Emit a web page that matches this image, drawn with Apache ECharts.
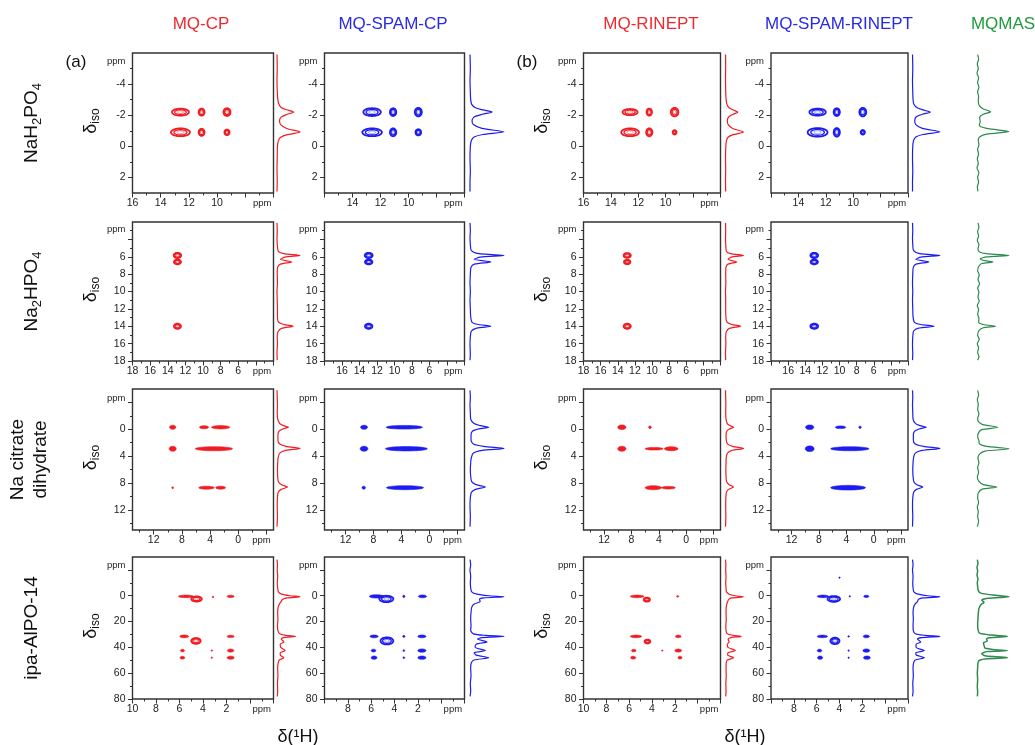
<!DOCTYPE html>
<html><head><meta charset="utf-8">
<script src="https://cdn.jsdelivr.net/npm/echarts@6/dist/echarts.min.js"></script>
<style>html,body{margin:0;padding:0;background:#fff}#c{width:1035px;height:745px}</style>
</head><body><div id="c"></div>
<script>
// ================= DATA =================
const columnTitles = ['MQ-CP', 'MQ-SPAM-CP', 'MQ-RINEPT', 'MQ-SPAM-RINEPT', 'MQMAS'];
const sampleNames = ['{n|NaH}{s|2}{n|PO}{s|4}', '{n|Na}{s|2}{n|HPO}{s|4}', '{n|Na citrate}\n{n|dihydrate}', '{n|ipa-AlPO-14}'];
const panelTags = ['(a)', '(b)'];
const yAxisTitle = '{d|δ}{s|iso}';
const xAxisTitle = 'δ(¹H)';

// axis ranges per row (ppm)
const xRanges = [[6, 16], [2, 18], [-5, 15], [-2, 10]];
const yRanges = [[-6, 3], [2, 18], [-6, 15], [-30, 80]];
// ticks and tick labels per row
const xMajorTicks = [[6, 8, 10, 12, 14, 16], [2, 4, 6, 8, 10, 12, 14, 16, 18], [-4, 0, 4, 8, 12], [-2, 0, 2, 4, 6, 8, 10]];
const xMinorTicks = [[7, 9, 11, 13, 15], [3, 5, 7, 9, 11, 13, 15, 17], [-2, 2, 6, 10, 14], [-1, 1, 3, 5, 7, 9]];
const xLabelsOuter = [[10, 12, 14, 16], [6, 8, 10, 12, 14, 16, 18], [0, 4, 8, 12], [2, 4, 6, 8, 10]];
const xLabelsInner = [[10, 12, 14], [6, 8, 10, 12, 14, 16], [0, 4, 8, 12], [2, 4, 6, 8]];
const xPpmLabelAt = [6.8, 3.3, -3.3, -1.0];
const yMajorTicks = [[-4, -2, 0, 2], [4, 6, 8, 10, 12, 14, 16, 18], [-4, 0, 4, 8, 12], [-20, 0, 20, 40, 60, 80]];
const yMinorTicks = [[-5, -3, -1, 1], [3, 5, 7, 9, 11, 13, 15, 17], [-2, 2, 6, 10, 14], [-10, 10, 30, 50, 70]];
const yLabels = [[-4, -2, 0, 2], [6, 8, 10, 12, 14, 16, 18], [0, 4, 8, 12], [0, 20, 40, 60, 80]];
const yPpmLabelAt = [-5.45, 2.9, -4.65, -23.3];

// 2D correlation peaks: [δ1H, δiso, width(1H), width(iso), kind 0=contour rings 1=filled]
const nah2po4CP = [[12.6, -2.2, 1.2, 0.45, 0], [11.1, -2.2, 0.42, 0.45, 0], [9.3, -2.2, 0.5, 0.5, 0], [12.6, -0.9, 1.35, 0.5, 0], [11.1, -0.9, 0.42, 0.45, 0], [9.3, -0.9, 0.36, 0.36, 0]];
const nah2po4SpamCP = [[12.6, -2.2, 1.25, 0.5, 0], [11.1, -2.2, 0.45, 0.5, 0], [9.3, -2.2, 0.5, 0.55, 0], [12.6, -0.9, 1.4, 0.5, 0], [11.1, -0.9, 0.45, 0.5, 0], [9.3, -0.9, 0.4, 0.4, 0]];
const nah2po4RINEPT = [[12.6, -2.2, 1.1, 0.4, 0], [11.2, -2.2, 0.4, 0.45, 0], [9.35, -2.2, 0.55, 0.55, 0], [12.6, -0.9, 1.3, 0.5, 0], [11.2, -0.9, 0.45, 0.5, 0], [9.35, -0.9, 0.28, 0.28, 0]];
const nah2po4SpamRINEPT = [[12.6, -2.2, 1.2, 0.45, 0], [11.2, -2.2, 0.45, 0.5, 0], [9.3, -2.2, 0.5, 0.55, 0], [12.6, -0.9, 1.45, 0.55, 0], [11.2, -0.9, 0.45, 0.55, 0], [9.3, -0.9, 0.3, 0.3, 0]];

const na2hpo4CP = [[12.9, 5.85, 0.85, 0.6, 0], [12.9, 6.6, 0.8, 0.55, 0], [12.9, 14.0, 0.8, 0.6, 0]];
const na2hpo4SpamCP = [[12.95, 5.85, 0.9, 0.6, 0], [12.95, 6.6, 0.85, 0.55, 0], [12.95, 14.0, 0.85, 0.6, 0]];
const na2hpo4RINEPT = [[12.9, 5.85, 0.85, 0.55, 0], [12.9, 6.6, 0.75, 0.5, 0], [12.9, 14.0, 0.85, 0.6, 0]];
const na2hpo4SpamRINEPT = [[12.95, 5.85, 0.9, 0.6, 0], [12.95, 6.6, 0.85, 0.55, 0], [12.95, 14.0, 0.9, 0.6, 0]];

const citrateCP = [[9.3, -0.3, 0.9, 0.6, 1], [4.85, -0.3, 1.3, 0.45, 1], [2.5, -0.3, 2.6, 0.5, 1], [9.3, 2.9, 1.0, 0.75, 1], [3.45, 2.9, 5.3, 0.6, 1], [9.3, 8.7, 0.25, 0.3, 1], [4.5, 8.7, 2.2, 0.45, 1], [2.5, 8.7, 1.4, 0.45, 1]];
const citrateSpamCP = [[9.35, -0.3, 1.0, 0.6, 1], [3.6, -0.3, 5.2, 0.55, 1], [9.35, 2.9, 1.1, 0.75, 1], [3.3, 2.9, 6.0, 0.65, 1], [9.4, 8.7, 0.5, 0.45, 1], [3.5, 8.7, 5.3, 0.6, 1]];
const citrateRINEPT = [[9.4, -0.3, 1.2, 0.7, 1], [5.3, -0.3, 0.4, 0.4, 1], [9.4, 2.9, 1.2, 0.75, 1], [4.7, 2.9, 2.6, 0.4, 1], [2.2, 2.9, 2.0, 0.6, 1], [4.8, 8.7, 2.4, 0.6, 1], [2.6, 8.7, 2.0, 0.4, 1]];
const citrateSpamRINEPT = [[9.35, -0.3, 1.2, 0.7, 1], [4.85, -0.3, 1.5, 0.4, 1], [2.0, -0.3, 0.35, 0.35, 1], [9.35, 2.9, 1.3, 0.85, 1], [3.5, 2.9, 5.6, 0.6, 1], [3.75, 8.7, 5.1, 0.7, 1]];

const alpoCP = [[5.45, 0.5, 1.3, 2.0, 1], [4.55, 2.5, 0.9, 4.0, 0], [3.15, 1.0, 0.12, 1.5, 1], [1.65, 0.5, 0.6, 1.8, 1], [5.6, 31.5, 0.75, 2.2, 1], [4.6, 35, 0.8, 4.5, 0], [1.65, 31.5, 0.6, 1.8, 1], [5.75, 42.5, 0.35, 2.0, 1], [3.25, 42.5, 0.1, 1.2, 1], [1.65, 42.5, 0.55, 2.4, 1], [5.75, 48, 0.4, 2.2, 1], [3.25, 48, 0.1, 1.2, 1], [1.65, 48, 0.6, 2.4, 1]];
const alpoSpamCP = [[5.55, 0.5, 1.2, 2.6, 1], [4.7, 2.5, 1.2, 5.0, 0], [3.2, 0.5, 0.2, 1.8, 1], [1.6, 0.5, 0.7, 2.2, 1], [5.75, 31.5, 0.7, 2.2, 1], [4.65, 35, 1.1, 5.5, 0], [3.2, 31.5, 0.2, 1.6, 1], [1.65, 31.5, 0.7, 2.2, 1], [5.8, 42.5, 0.4, 2.2, 1], [3.2, 42.5, 0.15, 1.4, 1], [1.65, 42.5, 0.7, 2.6, 1], [5.75, 48, 0.5, 2.6, 1], [3.2, 48, 0.15, 1.4, 1], [1.65, 48, 0.7, 2.6, 1]];
const alpoRINEPT = [[5.3, 0.5, 1.2, 2.0, 1], [4.45, 3, 0.55, 3.2, 0], [1.75, 0.5, 0.2, 1.2, 1], [5.4, 31.5, 1.0, 2.0, 1], [4.4, 35.5, 0.5, 3.0, 0], [1.7, 31.5, 0.5, 2.0, 1], [5.6, 42.5, 0.4, 2.0, 1], [3.1, 42.5, 0.08, 1.0, 1], [1.7, 42.5, 0.6, 2.4, 1], [5.65, 48, 0.45, 2.2, 1], [1.55, 48, 0.35, 2.2, 1]];
const alpoSpamRINEPT = [[5.45, 0.5, 1.0, 2.0, 1], [4.5, 2.5, 1.1, 4.5, 0], [3.1, 0.5, 0.1, 1.2, 1], [1.65, 0.5, 0.45, 1.8, 1], [5.5, 31.5, 0.9, 2.0, 1], [4.4, 35, 0.8, 5.0, 0], [3.2, 31.5, 0.15, 1.2, 1], [1.65, 31.5, 0.55, 2.2, 1], [5.75, 42.5, 0.4, 2.2, 1], [3.2, 42.5, 0.12, 1.2, 1], [1.65, 42.5, 0.6, 2.6, 1], [5.7, 48, 0.45, 2.6, 1], [3.2, 48, 0.12, 1.2, 1], [1.6, 48, 0.6, 2.6, 1], [4.0, -14, 0.08, 1.0, 1]];

// 1D isotropic projections: [δiso, relative intensity]
const nah2po4ProjCP = [[-5.9, 0], [-5.1, 0.01], [-4.3, 0], [-3.6, 0.01], [-3.1, 0.03], [-2.75, 0.07], [-2.5, 0.18], [-2.35, 0.42], [-2.2, 0.73], [-2.05, 0.42], [-1.88, 0.18], [-1.65, 0.11], [-1.4, 0.16], [-1.15, 0.42], [-0.92, 1], [-0.75, 0.45], [-0.58, 0.16], [-0.35, 0.06], [0, 0.02], [0.7, 0.01], [1.5, 0], [2.2, 0.01], [2.9, 0]];
const nah2po4ProjSpamCP = [[-5.9, 0], [-5, 0.01], [-4.2, 0], [-3.5, 0.01], [-3, 0.02], [-2.7, 0.05], [-2.48, 0.16], [-2.34, 0.38], [-2.2, 0.65], [-2.06, 0.36], [-1.9, 0.13], [-1.65, 0.06], [-1.4, 0.1], [-1.15, 0.35], [-0.93, 1], [-0.76, 0.38], [-0.6, 0.12], [-0.38, 0.04], [0, 0.01], [0.8, 0], [1.6, 0.01], [2.3, 0], [2.9, 0]];
const nah2po4ProjRINEPT = [[-5.9, 0], [-5.2, 0.01], [-4.4, 0], [-3.6, 0.01], [-3.05, 0.03], [-2.7, 0.08], [-2.48, 0.2], [-2.34, 0.43], [-2.2, 0.69], [-2.05, 0.4], [-1.88, 0.17], [-1.65, 0.1], [-1.4, 0.15], [-1.15, 0.4], [-0.92, 1], [-0.75, 0.42], [-0.58, 0.14], [-0.35, 0.05], [0, 0.02], [0.7, 0], [1.5, 0.01], [2.2, 0], [2.9, 0.01]];
const nah2po4ProjSpamRINEPT = [[-5.9, 0], [-5, 0.01], [-4.2, 0], [-3.5, 0.01], [-3, 0.02], [-2.7, 0.05], [-2.48, 0.17], [-2.34, 0.38], [-2.2, 0.65], [-2.06, 0.36], [-1.9, 0.14], [-1.65, 0.08], [-1.4, 0.12], [-1.15, 0.36], [-0.93, 1], [-0.76, 0.38], [-0.6, 0.12], [-0.38, 0.04], [0, 0.01], [0.8, 0], [1.6, 0.01], [2.3, 0], [2.9, 0]];
const nah2po4ProjMQMAS = [[-5.9, 0.02], [-5.6, 0.05], [-5.3, 0.01], [-5.0, 0.04], [-4.7, 0.0], [-4.4, 0.05], [-4.1, 0.02], [-3.8, 0.06], [-3.5, 0.02], [-3.2, 0.05], [-2.9, 0.04], [-2.6, 0.08], [-2.4, 0.2], [-2.22, 0.43], [-2.05, 0.18], [-1.85, 0.08], [-1.6, 0.1], [-1.35, 0.07], [-1.15, 0.3], [-0.95, 1.0], [-0.78, 0.3], [-0.6, 0.08], [-0.4, 0.04], [-0.1, 0.06], [0.2, 0.02], [0.5, 0.05], [0.8, 0.01], [1.1, 0.04], [1.4, 0.0], [1.7, 0.06], [2.0, 0.02], [2.3, 0.05], [2.6, 0.01], [2.9, 0.03]];

const na2hpo4ProjCP = [[2.1, 0], [3, 0.01], [4, 0], [4.8, 0.02], [5.4, 0.06], [5.65, 0.3], [5.85, 1.0], [6.05, 0.35], [6.3, 0.15], [6.6, 0.64], [6.85, 0.15], [7.2, 0.03], [8, 0.01], [9, 0.02], [10, 0], [11, 0.01], [12, 0.02], [12.8, 0.02], [13.5, 0.06], [13.8, 0.3], [14.0, 0.7], [14.25, 0.2], [14.6, 0.05], [15.2, 0.01], [16, 0.02], [17, 0], [17.9, 0.01]];
const na2hpo4ProjSpamCP = [[2.1, 0], [3, 0.01], [3.8, 0], [4.6, 0.01], [5.3, 0.04], [5.65, 0.25], [5.85, 1], [6.05, 0.3], [6.3, 0.12], [6.6, 0.61], [6.85, 0.13], [7.2, 0.03], [8, 0.01], [9, 0], [10, 0.01], [11, 0], [12, 0.01], [12.9, 0.02], [13.55, 0.06], [13.8, 0.25], [14, 0.61], [14.22, 0.2], [14.55, 0.04], [15.2, 0.01], [16.2, 0], [17.2, 0.01], [17.9, 0]];
const na2hpo4ProjRINEPT = [[2.1, 0], [3, 0.01], [4, 0], [4.8, 0.02], [5.4, 0.05], [5.65, 0.28], [5.85, 1], [6.05, 0.32], [6.3, 0.14], [6.6, 0.62], [6.85, 0.14], [7.2, 0.03], [8, 0.01], [9, 0.02], [10, 0], [11, 0.01], [12, 0.01], [12.8, 0.02], [13.5, 0.07], [13.8, 0.35], [14.0, 0.84], [14.25, 0.22], [14.6, 0.05], [15.2, 0.01], [16, 0.02], [17, 0], [17.9, 0.01]];
const na2hpo4ProjSpamRINEPT = [[2.1, 0], [3, 0.01], [3.8, 0], [4.6, 0.01], [5.3, 0.04], [5.65, 0.26], [5.85, 1], [6.05, 0.3], [6.3, 0.12], [6.6, 0.59], [6.85, 0.13], [7.2, 0.03], [8, 0.01], [9, 0], [10, 0.01], [11, 0], [12, 0.01], [12.9, 0.02], [13.55, 0.07], [13.8, 0.3], [14, 0.78], [14.22, 0.22], [14.55, 0.04], [15.2, 0.01], [16.2, 0], [17.2, 0.01], [17.9, 0]];
const na2hpo4ProjMQMAS = [[2.1, 0.03], [2.6, 0.06], [3.1, 0.02], [3.6, 0.05], [4.1, 0.01], [4.6, 0.06], [5.1, 0.03], [5.45, 0.08], [5.65, 0.3], [5.85, 1], [6.02, 0.3], [6.25, 0.1], [6.45, 0.25], [6.6, 0.5], [6.78, 0.15], [7.1, 0.06], [7.6, 0.02], [8.1, 0.07], [8.6, 0.03], [9.1, 0.08], [9.6, 0.02], [10.1, 0.06], [10.6, 0.03], [11.1, 0.07], [11.6, 0.01], [12.1, 0.05], [12.6, 0.02], [13.1, 0.06], [13.5, 0.05], [13.8, 0.2], [14, 0.58], [14.2, 0.18], [14.5, 0.06], [15, 0.02], [15.5, 0.07], [16, 0.01], [16.5, 0.05], [17, 0.02], [17.5, 0.06], [17.9, 0.02]];

const citrateProjCP = [[-5.8, 0], [-4.8, 0.01], [-3.6, 0.02], [-2.5, 0.01], [-1.5, 0.03], [-0.85, 0.12], [-0.55, 0.28], [-0.3, 0.5], [-0.05, 0.25], [0.3, 0.08], [0.9, 0.04], [1.6, 0.04], [2.2, 0.12], [2.55, 0.4], [2.85, 1], [3.15, 0.38], [3.55, 0.12], [4.2, 0.05], [5, 0.03], [6, 0.02], [7, 0.03], [7.8, 0.06], [8.25, 0.2], [8.6, 0.46], [8.95, 0.18], [9.4, 0.05], [10.2, 0.02], [11.5, 0.01], [13, 0.02], [14.5, 0]];
const citrateProjSpamCP = [[-5.8, 0], [-4.8, 0.01], [-3.6, 0], [-2.5, 0.01], [-1.5, 0.02], [-0.85, 0.12], [-0.55, 0.3], [-0.3, 0.55], [-0.05, 0.26], [0.3, 0.07], [0.9, 0.03], [1.6, 0.03], [2.2, 0.1], [2.55, 0.4], [2.85, 1], [3.15, 0.36], [3.55, 0.1], [4.2, 0.04], [5, 0.02], [6, 0.01], [7, 0.02], [7.8, 0.05], [8.25, 0.18], [8.6, 0.45], [8.95, 0.16], [9.4, 0.04], [10.2, 0.01], [11.5, 0], [13, 0.01], [14.5, 0]];
const citrateProjRINEPT = [[-5.8, 0], [-4.8, 0.01], [-3.6, 0.02], [-2.5, 0.01], [-1.5, 0.03], [-0.85, 0.1], [-0.55, 0.24], [-0.3, 0.45], [-0.05, 0.22], [0.3, 0.07], [0.9, 0.03], [1.6, 0.04], [2.2, 0.12], [2.55, 0.4], [2.85, 1], [3.15, 0.36], [3.55, 0.11], [4.2, 0.04], [5, 0.03], [6, 0.02], [7, 0.03], [7.8, 0.06], [8.25, 0.2], [8.6, 0.45], [8.95, 0.17], [9.4, 0.05], [10.2, 0.02], [11.5, 0.01], [13, 0.02], [14.5, 0]];
const citrateProjSpamRINEPT = [[-5.8, 0], [-4.8, 0.01], [-3.6, 0], [-2.5, 0.01], [-1.5, 0.02], [-0.85, 0.11], [-0.55, 0.27], [-0.3, 0.5], [-0.05, 0.24], [0.3, 0.07], [0.9, 0.03], [1.6, 0.03], [2.2, 0.1], [2.55, 0.4], [2.85, 1], [3.15, 0.35], [3.55, 0.1], [4.2, 0.04], [5, 0.02], [6, 0.01], [7, 0.02], [7.8, 0.05], [8.25, 0.16], [8.6, 0.38], [8.95, 0.14], [9.4, 0.04], [10.2, 0.01], [11.5, 0], [13, 0.01], [14.5, 0]];
const citrateProjMQMAS = [[-5.8, 0.02], [-5.1, 0.05], [-4.4, 0.01], [-3.7, 0.04], [-3.0, 0.02], [-2.3, 0.06], [-1.6, 0.02], [-1.1, 0.05], [-0.7, 0.18], [-0.3, 0.65], [0.05, 0.15], [0.5, 0.05], [1.1, 0.02], [1.7, 0.06], [2.2, 0.08], [2.55, 0.3], [2.9, 1], [3.25, 0.25], [3.7, 0.08], [4.3, 0.03], [5, 0.06], [5.7, 0.02], [6.4, 0.05], [7.1, 0.01], [7.7, 0.05], [8.25, 0.2], [8.6, 0.62], [8.95, 0.15], [9.5, 0.04], [10.2, 0.02], [10.9, 0.05], [11.6, 0.01], [12.3, 0.04], [13, 0.02], [13.7, 0.05], [14.5, 0.01]];

const alpoProjCP = [[-28, 0], [-24, 0.02], [-20, 0.01], [-15, 0.03], [-10, 0.01], [-6, 0.03], [-3, 0.06], [-1.2, 0.2], [0, 0.55], [0.8, 1], [1.7, 0.45], [2.8, 0.25], [4.5, 0.18], [6.5, 0.1], [9, 0.05], [13, 0.03], [18, 0.04], [23, 0.02], [27, 0.04], [29.5, 0.12], [30.7, 0.4], [31.5, 0.8], [32.4, 0.3], [33.6, 0.18], [35.8, 0.3], [37.6, 0.14], [40, 0.16], [42.5, 0.36], [44.2, 0.14], [46, 0.14], [48, 0.3], [49.8, 0.1], [52, 0.05], [56, 0.03], [62, 0.04], [68, 0.02], [74, 0.03], [78, 0.01]];
const alpoProjSpamCP = [[-28, 0], [-24, 0.02], [-20, 0], [-15, 0.02], [-10, 0.01], [-6, 0.02], [-3, 0.05], [-1.2, 0.2], [0, 0.55], [0.8, 1], [1.7, 0.4], [2.8, 0.28], [4.5, 0.3], [6.5, 0.12], [9, 0.05], [13, 0.03], [18, 0.02], [23, 0.03], [27, 0.02], [29.5, 0.1], [30.7, 0.45], [31.5, 1], [32.4, 0.35], [33.6, 0.22], [35.8, 0.5], [37.6, 0.18], [40, 0.15], [42.5, 0.45], [44.2, 0.12], [46, 0.18], [48, 0.55], [49.8, 0.12], [52, 0.04], [56, 0.02], [62, 0.03], [68, 0.01], [74, 0.02], [78, 0]];
const alpoProjRINEPT = [[-28, 0], [-24, 0.02], [-20, 0.01], [-15, 0.03], [-10, 0.01], [-6, 0.03], [-3, 0.05], [-1.2, 0.2], [0, 0.55], [0.8, 1], [1.7, 0.35], [2.8, 0.18], [4.5, 0.12], [6.5, 0.07], [9, 0.04], [13, 0.03], [18, 0.04], [23, 0.02], [27, 0.03], [29.5, 0.1], [30.7, 0.42], [31.5, 0.87], [32.4, 0.3], [33.6, 0.14], [35.8, 0.2], [37.6, 0.1], [40, 0.14], [42.5, 0.55], [44.2, 0.14], [46, 0.12], [48, 0.45], [49.8, 0.1], [52, 0.04], [56, 0.03], [62, 0.04], [68, 0.02], [74, 0.03], [78, 0.01]];
const alpoProjSpamRINEPT = [[-28, 0], [-24, 0.02], [-20, 0], [-15, 0.02], [-10, 0.01], [-6, 0.02], [-3, 0.05], [-1.2, 0.2], [0, 0.55], [0.8, 1], [1.7, 0.38], [2.8, 0.22], [4.5, 0.18], [6.5, 0.09], [9, 0.04], [13, 0.02], [18, 0.03], [23, 0.02], [27, 0.03], [29.5, 0.1], [30.7, 0.45], [31.5, 1], [32.4, 0.33], [33.6, 0.18], [35.8, 0.3], [37.6, 0.13], [40, 0.13], [42.5, 0.43], [44.2, 0.12], [46, 0.14], [48, 0.43], [49.8, 0.1], [52, 0.04], [56, 0.02], [62, 0.03], [68, 0.01], [74, 0.02], [78, 0]];
const alpoProjMQMAS = [[-28, 0.01], [-25, 0.03], [-22, 0.0], [-19, 0.02], [-16, 0.0], [-13, 0.03], [-10, 0.01], [-7, 0.02], [-4, 0.04], [-2, 0.12], [-0.5, 0.5], [0.8, 1], [2, 0.35], [3.5, 0.15], [5, 0.22], [7, 0.12], [10, 0.06], [14, 0.04], [18, 0.03], [22, 0.02], [26, 0.03], [29, 0.08], [30.5, 0.45], [31.5, 0.95], [32.5, 0.4], [33.5, 0.3], [35, 0.32], [36.5, 0.2], [38.5, 0.22], [40.5, 0.25], [41.8, 0.55], [42.5, 0.95], [43.3, 0.3], [45, 0.15], [46.5, 0.25], [47.3, 0.6], [48, 0.95], [48.8, 0.3], [50, 0.08], [52, 0.03], [56, 0.02], [60, 0.01], [65, 0.02], [70, 0.01], [75, 0.02], [78, 0.01]];

// ================= LAYOUT / STYLE =================
const FONT = 'Liberation Sans, Arial, Helvetica, sans-serif';
const RED = '#f01c22', BLUE = '#1c1cf0', GREEN = '#2e8a4e';
const colColors = [RED, BLUE, RED, BLUE, GREEN];
const titleColors = ['#ee2a2e', '#2a2ae6', '#ee2a2e', '#2a2ae6', '#1f9b3d'];
const titleCenters = [201, 393, 651, 839, 1003];
const colLeft = [132.5, 324.5, 583.5, 771];
const colWidth = [141, 140, 137, 137];
const rowTop = [53, 222, 389, 557];
const rowHeight = [140, 139, 141, 142];
const projLeft = [277, 470, 725.5, 912.5, 977];
const projWidth = [23, 34, 18, 27.5, 32];

const peakSets = [
  [nah2po4CP, nah2po4SpamCP, nah2po4RINEPT, nah2po4SpamRINEPT],
  [na2hpo4CP, na2hpo4SpamCP, na2hpo4RINEPT, na2hpo4SpamRINEPT],
  [citrateCP, citrateSpamCP, citrateRINEPT, citrateSpamRINEPT],
  [alpoCP, alpoSpamCP, alpoRINEPT, alpoSpamRINEPT]
];
const projSets = [
  [nah2po4ProjCP, nah2po4ProjSpamCP, nah2po4ProjRINEPT, nah2po4ProjSpamRINEPT, nah2po4ProjMQMAS],
  [na2hpo4ProjCP, na2hpo4ProjSpamCP, na2hpo4ProjRINEPT, na2hpo4ProjSpamRINEPT, na2hpo4ProjMQMAS],
  [citrateProjCP, citrateProjSpamCP, citrateProjRINEPT, citrateProjSpamRINEPT, citrateProjMQMAS],
  [alpoProjCP, alpoProjSpamCP, alpoProjRINEPT, alpoProjSpamRINEPT, alpoProjMQMAS]
];

function ellipsePts(cx, cy, rx, ry) {
  const pts = [];
  for (let k = 0; k < 36; k++) {
    const t = k / 36 * 2 * Math.PI;
    pts.push([cx + rx * Math.cos(t), cy + ry * Math.sin(t)]);
  }
  return pts;
}
function peakRenderer(color) {
  return function (params, api) {
    const c = api.coord([api.value(0), api.value(1)]);
    const s = api.size([api.value(2), api.value(3)]);
    const rx = Math.max(s[0] / 2, 0.7), ry = Math.max(s[1] / 2, 0.7);
    if (api.value(4) === 1) {
      return { type: 'polygon', shape: { points: ellipsePts(c[0], c[1], rx, ry) },
        style: { fill: color, stroke: color, lineWidth: 0.6 } };
    }
    const children = [1, 0.68, 0.36].map(function (f, i) {
      return { type: 'polygon',
        shape: { points: ellipsePts(c[0], c[1], Math.max(rx * f, 0.5), Math.max(ry * f, 0.5)) },
        style: { fill: 'none', stroke: color, lineWidth: i === 0 ? 1.8 : (i === 1 ? 1.3 : 0.9), opacity: i === 2 ? 0.5 : 1 } };
    });
    return { type: 'group', children: children };
  };
}

const option = { animation: false, backgroundColor: '#fff', grid: [], xAxis: [], yAxis: [], series: [], graphic: [] };

function mainAxis(dim, gi, range, major, labels, ppmAt) {
  return {
    type: 'value', gridIndex: gi, min: range[0], max: range[1], inverse: true,
    position: dim === 'x' ? 'bottom' : 'left',
    axisLine: { show: false, onZero: false }, splitLine: { show: false },
    axisTick: { show: true, inside: false, length: 4.5, customValues: major, lineStyle: { color: '#333', width: 1 } },
    axisLabel: {
      show: true, customValues: labels.concat([ppmAt]), margin: dim === 'x' ? 5 : 7,
      color: '#222', fontSize: 10.5, fontFamily: FONT,
      formatter: function (v) { return Math.abs(v - ppmAt) < 1e-9 ? '{p|ppm}' : String(v); },
      rich: { p: { fontSize: 9.5, color: '#222', fontFamily: FONT } }
    }
  };
}
function minorAxis(dim, gi, range, minor) {
  return {
    type: 'value', gridIndex: gi, min: range[0], max: range[1], inverse: true,
    position: dim === 'x' ? 'bottom' : 'left',
    axisLine: { show: false, onZero: false }, splitLine: { show: false }, axisLabel: { show: false },
    axisTick: { show: true, inside: false, length: 2.5, customValues: minor, lineStyle: { color: '#333', width: 1 } }
  };
}

for (let r = 0; r < 4; r++) {
  for (let c = 0; c < 4; c++) {
    option.grid.push({ left: colLeft[c], top: rowTop[r], width: colWidth[c], height: rowHeight[r],
      show: true, borderColor: '#333', borderWidth: 1.4, backgroundColor: 'rgba(0,0,0,0)' });
    const gi = option.grid.length - 1;
    const xl = (c % 2 === 0) ? xLabelsOuter[r] : xLabelsInner[r];
    option.xAxis.push(mainAxis('x', gi, xRanges[r], xMajorTicks[r], xl, xPpmLabelAt[r]));
    const xi = option.xAxis.length - 1;
    option.xAxis.push(minorAxis('x', gi, xRanges[r], xMinorTicks[r]));
    option.yAxis.push(mainAxis('y', gi, yRanges[r], yMajorTicks[r], yLabels[r], yPpmLabelAt[r]));
    const yi = option.yAxis.length - 1;
    option.yAxis.push(minorAxis('y', gi, yRanges[r], yMinorTicks[r]));
    option.series.push({ type: 'custom', xAxisIndex: xi, yAxisIndex: yi, data: peakSets[r][c],
      renderItem: peakRenderer(colColors[c]), clip: true, silent: true });
  }
  for (let c = 0; c < 5; c++) {
    option.grid.push({ left: projLeft[c], top: rowTop[r], width: projWidth[c], height: rowHeight[r], show: false });
    const gi = option.grid.length - 1;
    option.xAxis.push({ type: 'value', gridIndex: gi, min: 0, max: 1, show: false });
    const xi = option.xAxis.length - 1;
    option.yAxis.push({ type: 'value', gridIndex: gi, min: yRanges[r][0], max: yRanges[r][1], inverse: true, show: false });
    const yi = option.yAxis.length - 1;
    option.series.push({ type: 'line', xAxisIndex: xi, yAxisIndex: yi, data: projSets[r][c], encode: { x: 1, y: 0 },
      showSymbol: false, symbol: 'none', smooth: 0.25, silent: true, clip: false,
      lineStyle: { color: colColors[c], width: (c === 4 && r === 3) ? 1.5 : 1.2 } });
  }
}

// ----- texts -----
function txt(o) { return Object.assign({ type: 'text', silent: true }, o); }
columnTitles.forEach(function (t, i) {
  option.graphic.push(txt({ x: titleCenters[i], y: 24, style: { text: t, fill: titleColors[i], fontSize: 17, fontFamily: FONT, align: 'center', verticalAlign: 'middle' } }));
});
const tagX = [76, 527];
panelTags.forEach(function (t, i) {
  option.graphic.push(txt({ x: tagX[i], y: 62, style: { text: t, fill: '#111', fontSize: 17, fontFamily: FONT, align: 'center', verticalAlign: 'middle' } }));
});
const nameX = [32, 32, 29, 32];
sampleNames.forEach(function (t, r) {
  option.graphic.push(txt({ x: nameX[r], y: rowTop[r] + rowHeight[r] / 2, rotation: Math.PI / 2,
    style: { text: t, fill: '#111', fontFamily: FONT, align: 'center', verticalAlign: 'middle',
      rich: { n: { fontSize: 19, lineHeight: 23, fontFamily: FONT, fill: '#111' }, s: { fontSize: 13, lineHeight: 9, verticalAlign: 'bottom', fontFamily: FONT, fill: '#111' } } } }));
});
const isoX = [91, 542];
for (let r = 0; r < 4; r++) {
  isoX.forEach(function (x) {
    option.graphic.push(txt({ x: x, y: rowTop[r] + rowHeight[r] / 2 - 2, rotation: Math.PI / 2,
      style: { text: yAxisTitle, fill: '#111', fontFamily: FONT, align: 'center', verticalAlign: 'middle',
        rich: { d: { fontSize: 18, lineHeight: 22, fontFamily: FONT, fill: '#111' }, s: { fontSize: 12, lineHeight: 8, verticalAlign: 'bottom', fontFamily: FONT, fill: '#111' } } } }));
  });
}
[298, 745].forEach(function (x) {
  option.graphic.push(txt({ x: x, y: 737, style: { text: xAxisTitle, fill: '#111', fontSize: 18, fontFamily: FONT, align: 'center', verticalAlign: 'middle' } }));
});

const chart = echarts.init(document.getElementById('c'), null, { renderer: 'canvas', width: 1035, height: 745 });
chart.setOption(option);
</script></body></html>
